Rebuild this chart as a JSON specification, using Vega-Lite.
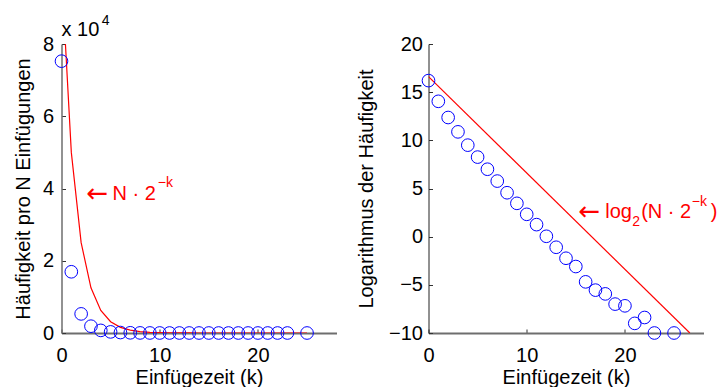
{
  "$schema": "https://vega.github.io/schema/vega-lite/v6.json",
  "padding": {"left": 13.5, "top": 13, "right": 0, "bottom": 0},
  "spacing": 20,
  "config": {
    "font": "Liberation Sans",
    "view": {"stroke": null},
    "axis": {
      "grid": false,
      "labelFont": "Liberation Sans",
      "titleFont": "Liberation Sans",
      "labelFontSize": 20,
      "titleFontSize": 20,
      "titleFontWeight": "normal",
      "labelColor": "#000000",
      "titleColor": "#000000",
      "labelFlush": false,
      "tickColor": "#333333",
      "tickSize": -4,
      "domainColor": "#6e6e6e",
      "domainWidth": 2
    }
  },
  "datasets": {
    "obs": [
      {"k": 0, "freq": 75250, "logfreq": 16.2},
      {"k": 1, "freq": 16950, "logfreq": 14.05},
      {"k": 2, "freq": 5290, "logfreq": 12.37},
      {"k": 3, "freq": 1885, "logfreq": 10.88},
      {"k": 4, "freq": 724, "logfreq": 9.5},
      {"k": 5, "freq": 307, "logfreq": 8.26},
      {"k": 6, "freq": 128, "logfreq": 7.0},
      {"k": 7, "freq": 55, "logfreq": 5.77},
      {"k": 8, "freq": 23.6, "logfreq": 4.56},
      {"k": 9, "freq": 11, "logfreq": 3.46},
      {"k": 10, "freq": 5, "logfreq": 2.32},
      {"k": 11, "freq": 2.4, "logfreq": 1.25},
      {"k": 12, "freq": 1.03, "logfreq": 0.04},
      {"k": 13, "freq": 0.47, "logfreq": -1.1},
      {"k": 14, "freq": 0.21, "logfreq": -2.24},
      {"k": 15, "freq": 0.117, "logfreq": -3.1},
      {"k": 16, "freq": 0.039, "logfreq": -4.69},
      {"k": 17, "freq": 0.021, "logfreq": -5.55},
      {"k": 18, "freq": 0.016, "logfreq": -5.94},
      {"k": 19, "freq": 0.0078, "logfreq": -7.0},
      {"k": 20, "freq": 0.0069, "logfreq": -7.18},
      {"k": 21, "freq": 0.002, "logfreq": -9.0},
      {"k": 22, "freq": 0.003, "logfreq": -8.39},
      {"k": 23, "freq": 0.001, "logfreq": -10},
      {"k": 25, "freq": 0.001, "logfreq": -10}
    ],
    "model": [
      {"k": 0, "f": 100000},
      {"k": 1, "f": 50000},
      {"k": 2, "f": 25000},
      {"k": 3, "f": 12500},
      {"k": 4, "f": 6250},
      {"k": 5, "f": 3125},
      {"k": 6, "f": 1562.5},
      {"k": 7, "f": 781.25},
      {"k": 8, "f": 390.6},
      {"k": 9, "f": 195.3},
      {"k": 10, "f": 97.7},
      {"k": 11, "f": 48.8},
      {"k": 12, "f": 24.4},
      {"k": 13, "f": 12.2},
      {"k": 14, "f": 6.1},
      {"k": 15, "f": 3.05},
      {"k": 16, "f": 1.53},
      {"k": 17, "f": 0.76},
      {"k": 18, "f": 0.38},
      {"k": 19, "f": 0.19},
      {"k": 20, "f": 0.095},
      {"k": 21, "f": 0.048},
      {"k": 22, "f": 0.024},
      {"k": 23, "f": 0.012},
      {"k": 24, "f": 0.006},
      {"k": 25, "f": 0.003}
    ],
    "modellog": [
      {"k": 0, "lf": 16.61},
      {"k": 26.61, "lf": -10}
    ],
    "one": [{}]
  },
  "hconcat": [
    {
      "width": 275,
      "height": 289,
      "layer": [
        {
          "data": {"name": "model"},
          "mark": {"type": "line", "color": "#ff0000", "strokeWidth": 1.2, "clip": true},
          "encoding": {
            "x": {"field": "k", "type": "quantitative", "scale": {"domain": [0, 28], "nice": false},
                  "axis": {"title": "Einfügezeit (k)", "values": [0, 10, 20], "labelPadding": 16, "titlePadding": 2}},
            "y": {"field": "f", "type": "quantitative", "scale": {"domain": [0, 80000], "nice": false},
                  "axis": {"title": "Häufigkeit pro N Einfügungen", "values": [0, 20000, 40000, 60000, 80000], "labelExpr": "datum.value / 10000", "labelPadding": 12, "titlePadding": 8.5, "domainWidth": 1.5}}
          }
        },
        {
          "data": {"name": "obs"},
          "mark": {"type": "point", "shape": "circle", "filled": false, "color": "#0000ff", "size": 160, "strokeWidth": 1, "opacity": 1},
          "encoding": {
            "x": {"field": "k", "type": "quantitative", "axis": {"title": "Einfügezeit (k)", "values": [0, 10, 20], "labelPadding": 16, "titlePadding": 2}},
            "y": {"field": "freq", "type": "quantitative", "axis": {"title": "Häufigkeit pro N Einfügungen", "values": [0, 20000, 40000, 60000, 80000], "labelExpr": "datum.value / 10000", "labelPadding": 12, "titlePadding": 8.5, "domainWidth": 1.5}}
          }
        },
        {
          "data": {"name": "one"},
          "mark": {"type": "text", "text": "←", "font": "DejaVu Sans", "align": "left", "baseline": "middle", "fontSize": 26, "color": "#ff0000"},
          "encoding": {"x": {"datum": 2.55, "type": "quantitative"}, "y": {"datum": 38600, "type": "quantitative"}}
        },
        {
          "data": {"name": "one"},
          "mark": {"type": "text", "text": "N · 2", "align": "left", "baseline": "middle", "fontSize": 20, "color": "#ff0000"},
          "encoding": {"x": {"datum": 5.2, "type": "quantitative"}, "y": {"datum": 38600, "type": "quantitative"}}
        },
        {
          "data": {"name": "one"},
          "mark": {"type": "text", "text": "−k", "align": "left", "baseline": "middle", "fontSize": 14, "color": "#ff0000"},
          "encoding": {"x": {"datum": 9.8, "type": "quantitative"}, "y": {"datum": 41500, "type": "quantitative"}}
        },
        {
          "data": {"name": "one"},
          "mark": {"type": "text", "text": "x 10", "align": "left", "baseline": "middle", "fontSize": 20, "color": "#000000"},
          "encoding": {"x": {"datum": 0, "type": "quantitative"}, "y": {"datum": 83770, "type": "quantitative"}}
        },
        {
          "data": {"name": "one"},
          "mark": {"type": "text", "text": "4", "align": "left", "baseline": "middle", "fontSize": 14, "color": "#000000"},
          "encoding": {"x": {"datum": 4.1, "type": "quantitative"}, "y": {"datum": 86370, "type": "quantitative"}}
        }
      ]
    },
    {
      "width": 275,
      "height": 289,
      "layer": [
        {
          "data": {"name": "modellog"},
          "mark": {"type": "line", "color": "#ff0000", "strokeWidth": 1.2, "clip": true},
          "encoding": {
            "x": {"field": "k", "type": "quantitative", "scale": {"domain": [0, 28], "nice": false},
                  "axis": {"title": "Einfügezeit (k)", "values": [0, 10, 20], "labelPadding": 16, "titlePadding": 2}},
            "y": {"field": "lf", "type": "quantitative", "scale": {"domain": [-10, 20], "nice": false},
                  "axis": {"title": "Logarithmus der Häufigkeit", "values": [-10, -5, 0, 5, 10, 15, 20], "labelPadding": 10, "titlePadding": 12, "domainWidth": 1, "domainColor": "#222222"}}
          }
        },
        {
          "data": {"name": "obs"},
          "mark": {"type": "point", "shape": "circle", "filled": false, "color": "#0000ff", "size": 160, "strokeWidth": 1, "opacity": 1},
          "encoding": {
            "x": {"field": "k", "type": "quantitative", "axis": {"title": "Einfügezeit (k)", "values": [0, 10, 20], "labelPadding": 16, "titlePadding": 2}},
            "y": {"field": "logfreq", "type": "quantitative", "axis": {"title": "Logarithmus der Häufigkeit", "values": [-10, -5, 0, 5, 10, 15, 20], "labelPadding": 10, "titlePadding": 12, "domainWidth": 1, "domainColor": "#222222"}}
          }
        },
        {
          "data": {"name": "one"},
          "mark": {"type": "text", "text": "←", "font": "DejaVu Sans", "align": "left", "baseline": "middle", "fontSize": 26, "color": "#ff0000"},
          "encoding": {"x": {"datum": 15.26, "type": "quantitative"}, "y": {"datum": 2.6, "type": "quantitative"}}
        },
        {
          "data": {"name": "one"},
          "mark": {"type": "text", "text": "log", "align": "left", "baseline": "middle", "fontSize": 20, "color": "#ff0000"},
          "encoding": {"x": {"datum": 18.0, "type": "quantitative"}, "y": {"datum": 2.6, "type": "quantitative"}}
        },
        {
          "data": {"name": "one"},
          "mark": {"type": "text", "text": "2", "align": "left", "baseline": "middle", "fontSize": 14, "color": "#ff0000"},
          "encoding": {"x": {"datum": 20.75, "type": "quantitative"}, "y": {"datum": 1.55, "type": "quantitative"}}
        },
        {
          "data": {"name": "one"},
          "mark": {"type": "text", "text": "(N · 2", "align": "left", "baseline": "middle", "fontSize": 20, "color": "#ff0000"},
          "encoding": {"x": {"datum": 21.65, "type": "quantitative"}, "y": {"datum": 2.6, "type": "quantitative"}}
        },
        {
          "data": {"name": "one"},
          "mark": {"type": "text", "text": "−k", "align": "left", "baseline": "middle", "fontSize": 14, "color": "#ff0000"},
          "encoding": {"x": {"datum": 26.8, "type": "quantitative"}, "y": {"datum": 3.55, "type": "quantitative"}}
        },
        {
          "data": {"name": "one"},
          "mark": {"type": "text", "text": ")", "align": "left", "baseline": "middle", "fontSize": 20, "color": "#ff0000"},
          "encoding": {"x": {"datum": 28.75, "type": "quantitative"}, "y": {"datum": 2.6, "type": "quantitative"}}
        }
      ]
    }
  ]
}
